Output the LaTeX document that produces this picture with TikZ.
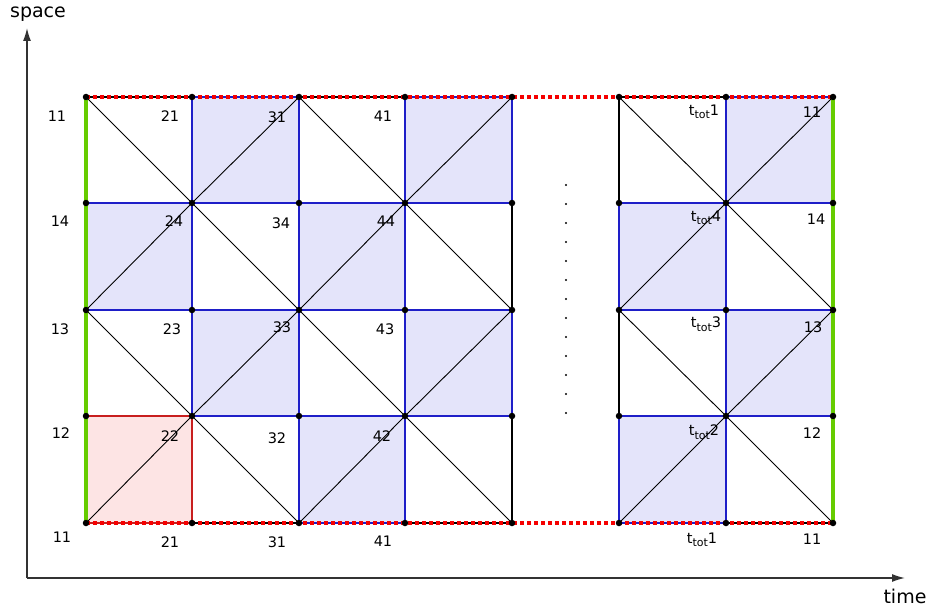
\documentclass[tikz,border=0pt]{standalone}
\usepackage{fontspec}
\setmainfont{DejaVu Sans}
\usetikzlibrary{arrows.meta}
\definecolor{cellblue}{RGB}{228,228,250}
\definecolor{lineblue}{RGB}{30,30,200}
\definecolor{cellred}{RGB}{253,228,228}
\definecolor{linered}{RGB}{200,30,30}
\definecolor{bndgreen}{RGB}{102,204,0}
\definecolor{dotred}{RGB}{245,0,0}
\definecolor{axisgray}{RGB}{50,50,50}
\newcommand{\Ttot}{t\raisebox{-0.45ex}{\fontsize{11}{11}\selectfont tot}}
\begin{document}
\begin{tikzpicture}[x=1pt,y=-1pt,
  gridline/.style={black,line width=1.1pt},
  blueedge/.style={lineblue,line width=1.8pt},
  rededge/.style={linered,line width=1.8pt},
  diag/.style={black,line width=0.9pt},
  greenedge/.style={bndgreen,line width=3.6pt},
  reddots/.style={dotred,line width=3.5pt,dash pattern=on 4pt off 3pt},
  vdot/.style={circle,fill=black,inner sep=0pt,minimum size=6.5pt},
  lbl/.style={inner sep=0pt,font=\fontsize{14.5}{15}\selectfont},
  axislbl/.style={inner sep=0pt,font=\fontsize{19}{20}\selectfont},
  axis/.style={axisgray,line width=1.3pt,-{Latex[length=13pt,width=8pt]}}
]
\useasboundingbox (0,0) rectangle (930,610);
% grid coordinates
\foreach \x [count=\c from 0] in {86,192,299,405,512,619,726,833}
  \foreach \y [count=\r from 0] in {97,203,310,416,523}
    \coordinate (v\c-\r) at (\x,\y);
% fills
\foreach \c/\p in {0/0,1/1,2/2,3/3,5/4,6/5}
  \foreach \r in {0,...,3}{
    \pgfmathtruncatemacro\cn{\c+1}
    \pgfmathtruncatemacro\rn{\r+1}
    \pgfmathtruncatemacro\odd{mod(\p+\r,2)}
    \ifnum\odd=1
      \ifnum\c=0 \ifnum\r=3
        \fill[cellred] (v\c-\r) rectangle (v\cn-\rn);
      \else
        \fill[cellblue] (v\c-\r) rectangle (v\cn-\rn);
      \fi\else
        \fill[cellblue] (v\c-\r) rectangle (v\cn-\rn);
      \fi
    \fi
  }
% black grid
\foreach \r in {0,...,4}{
  \draw[gridline] (v0-\r) -- (v4-\r);
  \draw[gridline] (v5-\r) -- (v7-\r);
}
\foreach \c in {0,...,7}
  \draw[gridline] (v\c-0) -- (v\c-4);
% coloured cell outlines and diagonals
\foreach \c/\p in {0/0,1/1,2/2,3/3,5/4,6/5}
  \foreach \r in {0,...,3}{
    \pgfmathtruncatemacro\cn{\c+1}
    \pgfmathtruncatemacro\rn{\r+1}
    \pgfmathtruncatemacro\odd{mod(\p+\r,2)}
    \ifnum\odd=1
      \ifnum\c=0 \ifnum\r=3
        \draw[rededge] (v\c-\r) rectangle (v\cn-\rn);
      \else
        \draw[blueedge] (v\c-\r) rectangle (v\cn-\rn);
      \fi\else
        \draw[blueedge] (v\c-\r) rectangle (v\cn-\rn);
      \fi
      \draw[diag] (v\cn-\r) -- (v\c-\rn);
    \else
      \draw[diag] (v\c-\r) -- (v\cn-\rn);
    \fi
  }
% boundaries
\draw[greenedge] (v0-0) -- (v0-4);
\draw[greenedge] (v7-0) -- (v7-4);
\draw[reddots] (v0-0) -- (v7-0);
\draw[reddots] (v0-4) -- (v7-4);
% vertex dots
\foreach \c in {0,...,7}
  \foreach \r in {0,...,4}
    \node[vdot] (d\c-\r) at (v\c-\r) {};
% vertical ellipsis
\foreach \k in {0,...,12}
  \fill (566,185+19*\k) circle (1.2);
% labels, left block
\node[lbl] (a00) at (57,116) {11};
\node[lbl] (a10) at (170,116) {21};
\node[lbl] (a20) at (277,117) {31};
\node[lbl] (a30) at (383,116) {41};
\node[lbl] (a01) at (60,221) {14};
\node[lbl] (a11) at (174,221) {24};
\node[lbl] (a21) at (281,223) {34};
\node[lbl] (a31) at (386,221) {44};
\node[lbl] (a02) at (60,329) {13};
\node[lbl] (a12) at (172,329) {23};
\node[lbl] (a22) at (282,327) {33};
\node[lbl] (a32) at (385,329) {43};
\node[lbl] (a03) at (61,433) {12};
\node[lbl] (a13) at (170,436) {22};
\node[lbl] (a23) at (277,438) {32};
\node[lbl] (a33) at (382,436) {42};
\node[lbl] (a04) at (62,537) {11};
\node[lbl] (a14) at (170,542) {21};
\node[lbl] (a24) at (277,542) {31};
\node[lbl] (a34) at (383,541) {41};
% labels, right block
\node[lbl] (b00) at (704,112) {\Ttot1};
\node[lbl] (b10) at (812,112) {11};
\node[lbl] (b01) at (706,218) {\Ttot4};
\node[lbl] (b11) at (816,219) {14};
\node[lbl] (b02) at (706,324) {\Ttot3};
\node[lbl] (b12) at (813,327) {13};
\node[lbl] (b03) at (704,432) {\Ttot2};
\node[lbl] (b13) at (812,433) {12};
\node[lbl] (b04) at (702,540) {\Ttot1};
\node[lbl] (b14) at (812,539) {11};
% axes
\coordinate (origin) at (27,578);
\coordinate (ytip) at (27,28);
\coordinate (xtip) at (905,578);
\draw[axis] (origin) -- (ytip);
\draw[axis] (origin) -- (xtip);
\node[axislbl] (spacelbl) at (38,14) {space};
\node[axislbl] (timelbl) at (905,596) {time};
\end{tikzpicture}
\end{document}
